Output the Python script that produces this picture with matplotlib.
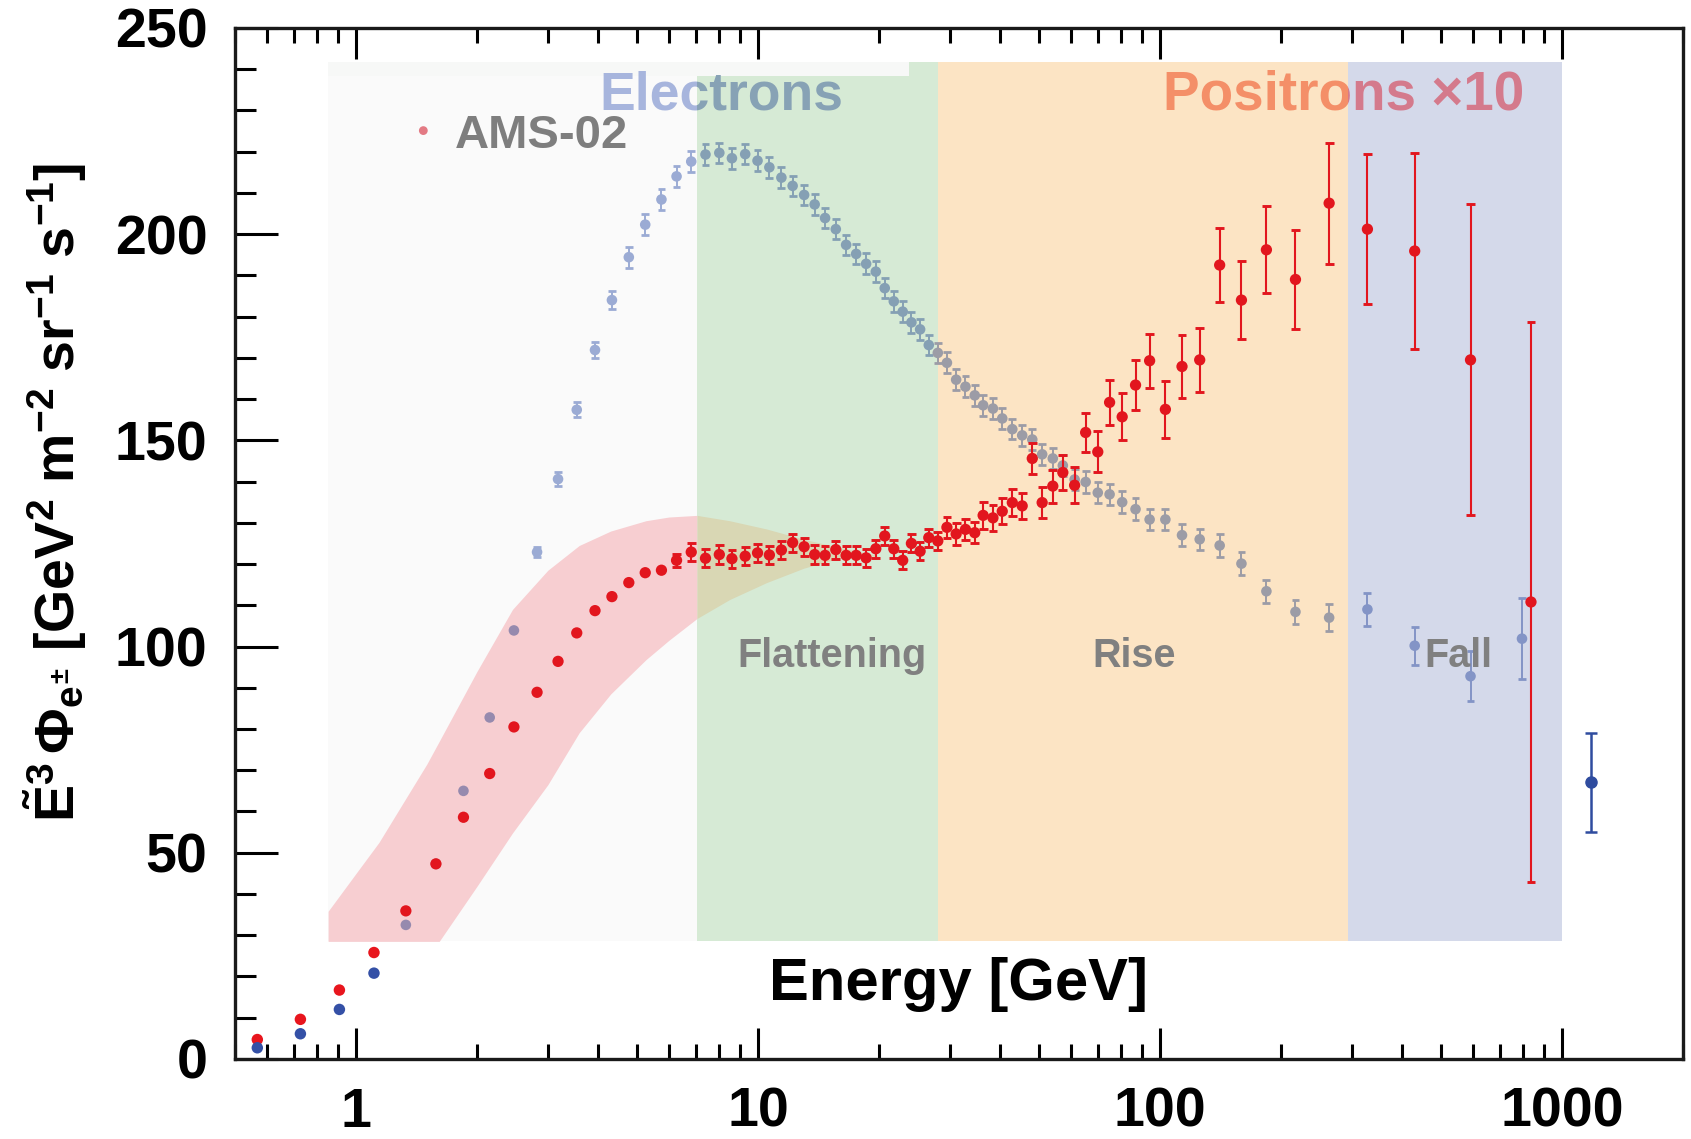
import numpy as np
import matplotlib.pyplot as plt
import matplotlib.colors as mcolors
from matplotlib.ticker import LogLocator, MultipleLocator, NullFormatter
from matplotlib.transforms import Bbox, TransformedBbox

plt.rcParams["font.family"] = ["Liberation Sans", "DejaVu Sans"]
plt.rcParams["font.weight"] = "bold"
plt.rcParams["mathtext.fontset"] = "custom"
plt.rcParams["mathtext.rm"] = "Liberation Sans:bold"
plt.rcParams["mathtext.it"] = "Liberation Sans:bold"
plt.rcParams["mathtext.bf"] = "Liberation Sans:bold"
plt.rcParams["mathtext.sf"] = "Liberation Sans:bold"

# main figure points (below the inset)
main_energy = [0.568, 0.727, 0.909, 1.108]
main_positron = [4.7, 9.6, 16.7, 25.8]
main_electron = [2.7, 6.1, 12.0, 20.8]
far_energy = [1180]
far_value = [67.1]
far_err = [12.0]

# AMS-02 inset: energy bins [GeV]
energy = [1.33, 1.58, 1.85, 2.15, 2.47, 2.82, 3.18, 3.54, 3.93, 4.33,
          4.77, 5.24, 5.75, 6.27, 6.82, 7.40, 8.01, 8.61, 9.29, 9.97,
          10.67, 11.43, 12.19, 13.02, 13.83, 14.68, 15.61, 16.56, 17.54, 18.57,
          19.63, 20.66, 21.76, 22.9, 24.07, 25.3, 26.59, 28.0, 29.5, 31.1,
          32.8, 34.6, 36.3, 38.4, 40.5, 42.9, 45.4, 48.1, 50.9, 54.1,
          57.3, 61.3, 65.3, 70.0, 74.9, 80.5, 86.9, 94.2, 103.1, 113.4,
          125.5, 140.7, 159.4, 183.9, 217.2, 263.4, 328, 430, 592]
energy_e = energy + [795]
energy_p = energy + [837]

electrons = [32.5, 47.3, 65.0, 82.8, 103.9, 122.9, 140.6, 157.4, 171.9, 184.0,
             194.4, 202.3, 208.4, 214.0, 217.6, 219.3, 219.7, 218.4, 219.4, 217.8,
             216.2, 213.7, 211.7, 209.5, 207.2, 203.9, 201.2, 197.4, 195.2, 192.8,
             190.9, 186.9, 183.7, 181.2, 178.6, 176.9, 173.1, 171.2, 168.8, 164.7,
             163.0, 160.9, 158.5, 157.7, 155.3, 152.7, 151.2, 150.2, 146.6, 145.6,
             143.9, 140.5, 139.9, 137.3, 136.9, 135.0, 133.3, 130.8, 130.8, 127.0,
             126.0, 124.5, 120.1, 113.4, 108.4, 107.0, 109.0, 100.2, 92.8, 101.9]
electron_err = [0, 0, 0, 0, 0, 1.2, 1.6, 1.8, 2.0, 2.2,
                2.5, 2.5, 2.5, 2.5, 2.5, 2.5, 2.5, 2.5, 2.5, 2.5,
                2.5, 2.5, 2.5, 2.5, 2.5, 2.5, 2.5, 2.5, 2.5, 2.5,
                2.5, 2.5, 2.5, 2.5, 2.5, 2.5, 2.5, 2.5, 2.5, 2.5,
                2.5, 2.5, 2.5, 2.5, 2.5, 2.5, 2.5, 2.5, 2.5, 2.5,
                2.6, 2.6, 2.6, 2.6, 2.6, 2.6, 2.6, 2.6, 2.6, 2.6,
                2.6, 2.7, 2.8, 2.8, 3.0, 3.3, 4.0, 4.6, 6.0, 9.8]

positrons = [35.9, 47.3, 58.6, 69.2, 80.5, 88.9, 96.4, 103.3, 108.7, 112.1,
             115.5, 117.9, 118.5, 120.9, 122.9, 121.4, 122.3, 121.3, 121.9, 122.7,
             122.2, 123.4, 125.2, 124.2, 122.3, 122.1, 123.5, 122.1, 122.1, 121.5,
             123.7, 126.8, 123.7, 120.9, 125.0, 123.1, 126.4, 125.6, 128.9, 127.3,
             128.4, 127.6, 131.8, 131.2, 132.8, 134.9, 134.1, 145.6, 134.9, 138.9,
             142.2, 139.1, 151.9, 147.2, 159.2, 155.7, 163.4, 169.3, 157.5, 167.9,
             169.5, 192.5, 184.0, 196.2, 189.0, 207.5, 201.2, 195.9, 169.5, 110.8]
positron_err = [0, 0, 0, 0, 0, 0, 0, 0, 0, 0,
                0, 0, 0, 1.5, 2.2, 2.2, 2.2, 2.2, 2.2, 2.2,
                2.2, 2.2, 2.2, 2.2, 2.2, 2.2, 2.2, 2.2, 2.2, 2.2,
                2.2, 2.2, 2.2, 2.2, 2.2, 2.2, 2.2, 2.2, 2.6, 2.6,
                2.6, 2.6, 3.2, 3.2, 3.2, 3.2, 3.2, 3.8, 3.8, 4.0,
                4.2, 4.4, 4.8, 5.0, 5.4, 5.7, 6.1, 6.5, 7.0, 7.6,
                7.7, 9.0, 9.5, 10.6, 12.0, 14.7, 18.2, 23.7, 37.7, 68.0]

# model band (pink)
band_x = [0.852, 1.0, 1.14, 1.5, 1.61, 2.0, 2.45, 3.0, 3.59, 4.3, 5.26, 6.0, 7.05,
          8.5, 10.5, 13.0, 16.0, 20.0]
band_hi = [35.8, 45.0, 52.5, 71.5, 77.0, 94.0, 109.0, 118.5, 124.5, 128.0, 130.5, 131.4, 131.8,
           130.5, 128.5, 126.0, 124.0, 122.0]
band_lo = [28.5, 28.5, 28.5, 28.5, 28.5, 41.9, 54.8, 66.5, 79.1, 88.5, 96.8, 101.5, 106.8,
           111.4, 115.5, 119.0, 121.5, 122.0]

# inset panel and its shaded regions
inset_y = (28.5, 241.8)
spans = [(0.852, 7.05, "#fafafa"), (7.05, 28.0, "#d6ead5"),
         (28.0, 293, "#fce4c4"), (293, 1000, "#d4d9ea")]
pink = "#f7ced1"
e_base = "#9eaed8"
red = "#e2161e"


def multiply(*cols):
    out = np.ones(3)
    for c in cols:
        out = out * np.array(mcolors.to_rgb(c))
    return tuple(out)


def region_color(x):
    for x0, x1, c in spans:
        if x0 <= x < x1:
            return c
    return "#ffffff"


def in_band(x, y):
    if x < band_x[0] or x > band_x[-1]:
        return False
    lx = np.log10(band_x)
    lo = np.interp(np.log10(x), lx, band_lo)
    hi = np.interp(np.log10(x), lx, band_hi)
    return lo <= y <= hi


def draw_points(ax, x, y, err, colors, s, cap, lw, z):
    x = np.asarray(x, float)
    y = np.asarray(y, float)
    err = np.asarray(err, float)
    colors = np.asarray(colors)
    m = err > 0
    ax.vlines(x[m], (y - err)[m], (y + err)[m], colors=colors[m], lw=lw, zorder=z)
    ax.scatter(np.r_[x[m], x[m]], np.r_[(y - err)[m], (y + err)[m]], marker="_",
               s=cap, c=np.r_[colors[m], colors[m]], linewidths=lw + 0.6, zorder=z)
    ax.scatter(x, y, s=s, c=colors, edgecolors="none", zorder=z)


fig = plt.figure(figsize=(16.91, 11.39), dpi=100)
ax = fig.add_axes([0.139, 0.0703, 0.8563, 0.9052])
ax.set_xscale("log")
ax.set_xlim(0.5, 2000)
ax.set_ylim(0, 250)

# inset background
ymin, ymax = inset_y[0] / 250, inset_y[1] / 250
for x0, x1, c in spans:
    ax.axvspan(x0, x1, ymin=ymin, ymax=ymax, color=c, lw=0, zorder=1)
ax.fill_between([0.852, 23.7], 238.3, inset_y[1], color="#f7f8f7", lw=0, zorder=1.2)

# model band
k = band_x.index(7.05)
ax.fill_between(band_x[:k + 1], band_lo[:k + 1], band_hi[:k + 1], color=pink, lw=0, zorder=1.5)
ax.fill_between(band_x[k:], band_lo[k:], band_hi[k:], color="#d9d7b4", lw=0, zorder=1.5)

# electrons (seen through the shaded regions)
e_cols = []
for x, y in zip(energy_e, electrons):
    c = [e_base, region_color(x)]
    if in_band(x, y):
        c.append(pink)
    e_cols.append(multiply(*c))
draw_points(ax, energy_e, electrons, electron_err, e_cols, 58, 32, 1.4, 3)

# positrons x10
p_cols = [mcolors.to_rgb(red)] * len(energy_p)
draw_points(ax, energy_p, positrons, positron_err, p_cols, 66, 40, 1.5, 4)

# main figure points
ax.scatter(main_energy, main_positron, s=68, color="#e8151d", edgecolors="none", zorder=5)
ax.scatter(main_energy, main_electron, s=68, color="#3450a6", edgecolors="none", zorder=5)
ax.errorbar(far_energy, far_value, yerr=far_err, fmt="o", ms=8, color="#2f4c9f",
            elinewidth=1.8, capsize=4.5, capthick=1.8, zorder=5)


# inset labels
def clipped_text(x, y, s, parts, **kw):
    for x0, x1, c in parts:
        t = ax.text(x, y, s, color=c, zorder=6, **kw)
        t.set_clip_on(True)
        t.set_clip_box(TransformedBbox(Bbox.from_extents(x0, 0, x1, 250), ax.transData))


clipped_text(4.03, 230.1, "Electrons",
             [(0.5, 7.05, "#a7b5dd"), (7.05, 28.0, "#87a2b5")],
             fontsize=38.5, ha="left", va="baseline")
clipped_text(101.9, 230.1, "Positrons \u00d710",
             [(28.0, 293, "#f48f68"), (293, 2000, "#d47a8c")],
             fontsize=39.5, ha="left", va="baseline")
ax.scatter([1.47], [225.1], s=40, color="#e37a84", edgecolors="none", zorder=6)
ax.text(1.764, 220.9, "AMS-02", fontsize=34, color="#7e7e7e", ha="left", va="baseline", zorder=6)
for x, s in [(8.87, "Flattening"), (67.8, "Rise"), (455.8, "Fall")]:
    ax.text(x, 95.0, s, fontsize=28.5, color="#808080", ha="left", va="baseline", zorder=6)

ax.text(0.4993, 0.0718, "Energy [GeV]", transform=ax.transAxes, fontsize=43,
        ha="center", va="center", zorder=6)
fig.text(0.0325, 0.568,
         r"$\tilde{E}^{3}\,\Phi_{e^{\pm}}$ [GeV$^{2}$ m$^{-2}$ sr$^{-1}$ s$^{-1}$]",
         rotation=90, fontsize=40, ha="center", va="center")

# axes styling
ax.set_xticks([1, 10, 100, 1000])
ax.set_xticklabels(["1", "10", "100", "1000"])
ax.xaxis.set_minor_locator(LogLocator(base=10, subs=range(2, 10), numticks=20))
ax.xaxis.set_minor_formatter(NullFormatter())
ax.yaxis.set_major_locator(MultipleLocator(50))
ax.yaxis.set_minor_locator(MultipleLocator(10))
ax.tick_params(axis="x", which="major", direction="in", length=22, width=2.2,
               top=True, labelsize=40, pad=20)
ax.tick_params(axis="x", which="minor", direction="in", length=11, width=2.2, top=True)
ax.tick_params(axis="y", which="major", direction="in", length=31, width=2.2,
               right=False, labelsize=40, pad=20)
ax.tick_params(axis="y", which="minor", direction="in", length=15, width=2.2, right=False)
for sp in ax.spines.values():
    sp.set_linewidth(2.4)
    sp.set_color("#1a1a1a")

fig.savefig("out.png", dpi=100)
